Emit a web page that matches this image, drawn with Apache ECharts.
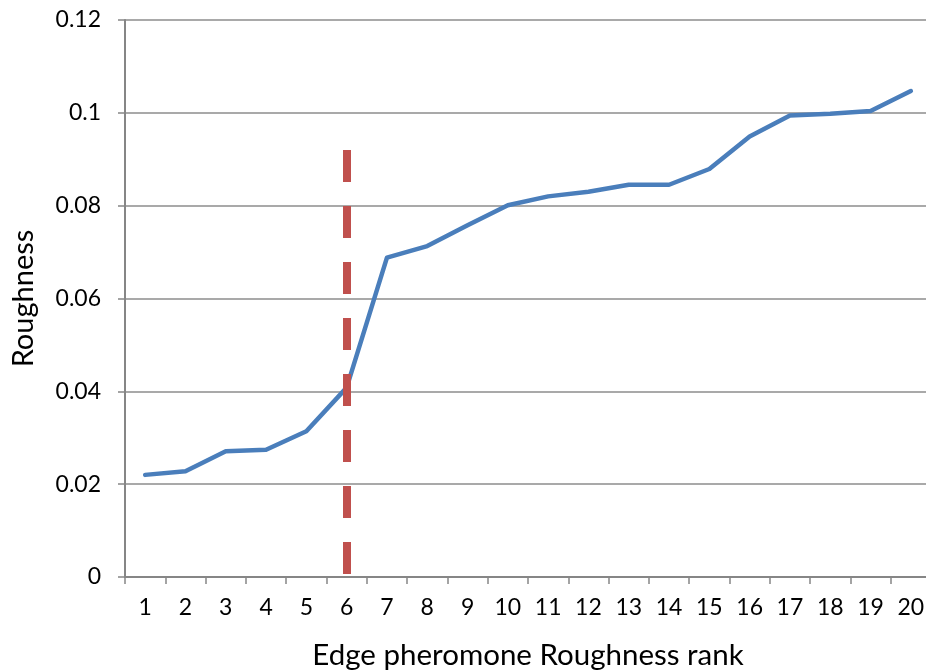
<!DOCTYPE html>
<html><head><meta charset="utf-8">
<script src="https://cdn.jsdelivr.net/npm/echarts@6/dist/echarts.min.js"></script>
<style>html,body{margin:0;padding:0;background:#fff}#c{width:926px;height:670px}</style>
</head><body><div id="c"></div>
<script>
const categories = ['1','2','3','4','5','6','7','8','9','10','11','12','13','14','15','16','17','18','19','20'];
const roughness = [0.0220,0.0228,0.0271,0.0274,0.0314,0.0408,0.0688,0.0713,0.0758,0.0801,0.0820,0.0830,0.0845,0.0845,0.0879,0.0949,0.0994,0.0998,0.1004,0.1047];
const cutRank = '6';
const cutTop = 0.092;
const yTicks = {min:0, max:0.12, interval:0.02};

const font = 'Lato, "Open Sans", sans-serif';
const chart = echarts.init(document.getElementById('c'), null, {renderer:'canvas'});
chart.setOption({
  animation:false,
  backgroundColor:'#fff',
  grid:{left:125, top:20, right:-5, bottom:93, containLabel:false, outerBoundsMode:'none'},
  xAxis:{
    type:'category', data:categories, boundaryGap:true,
    name:'Edge pheromone Roughness rank', nameLocation:'middle', nameGap:63,
    nameTextStyle:{fontFamily:font, fontSize:29.5, color:'#000'},
    axisLine:{lineStyle:{color:'#868686', width:2}},
    axisTick:{show:true, length:7, alignWithLabel:false, lineStyle:{color:'#868686', width:1.5}},
    axisLabel:{fontFamily:font, fontSize:23, color:'#000', margin:19, interval:0},
    splitLine:{show:false}
  },
  yAxis:{
    type:'value', min:yTicks.min, max:yTicks.max, interval:yTicks.interval,
    name:'Roughness', nameLocation:'middle', nameGap:87, nameRotate:90,
    nameTextStyle:{fontFamily:font, fontSize:29, color:'#000'},
    axisLine:{show:true, lineStyle:{color:'#868686', width:2}},
    axisTick:{show:true, length:7, lineStyle:{color:'#868686', width:1.5}},
    axisLabel:{fontFamily:font, fontSize:23, color:'#000', margin:24,
      formatter:v=>String(parseFloat(v.toFixed(4)))},
    splitLine:{show:true, lineStyle:{color:'#8c8c8c', width:1.5}}
  },
  series:[{
    type:'line', data:roughness, symbol:'none', smooth:false,
    lineStyle:{color:'#4A7EBB', width:4.5, cap:'round', join:'round'},
    markLine:{
      silent:true, symbol:['none','none'], label:{show:false},
      lineStyle:{color:'#C0504D', width:8, type:[32,24], opacity:1},
      data:[[{coord:[cutRank, cutTop]},{coord:[cutRank, 0]}]]
    }
  }]
});
</script></body></html>
